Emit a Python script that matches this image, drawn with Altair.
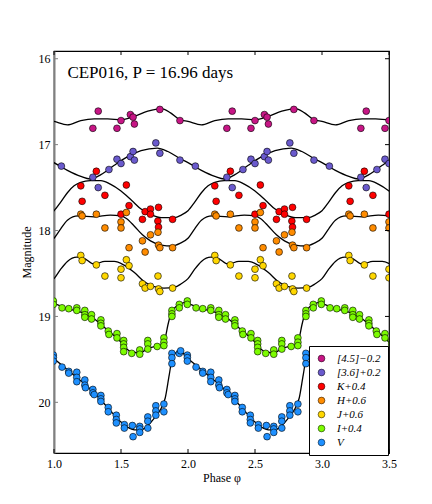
import altair as alt
import pandas as pd

# ---- band names & colours ----
bands = ["[4.5]\u22120.2", "[3.6]+0.2", "K+0.4", "H+0.6", "J+0.6", "I+0.4", "V"]
colors = ["#C71585", "#6A5ACD", "#FF0000", "#FF8C00", "#FFD700", "#7CFC00", "#1E90FF"]

# ---- observed points (phase in [0,1), plotted magnitude) ----
m45_phase = [0.29, 0.33, 0.47, 0.50, 0.57, 0.59, 0.60, 0.79, 0.94]
m45_mag = [16.81, 16.61, 16.81, 16.72, 16.65, 16.68, 16.76, 16.59, 16.72]

m36_phase = [0.055, 0.29, 0.33, 0.41, 0.47, 0.50, 0.57, 0.59, 0.60, 0.76, 0.79, 0.94]
m36_mag = [17.25, 17.38, 17.50, 17.29, 17.17, 17.22, 17.14, 17.08, 17.18, 16.98, 17.10, 17.18]

K_phase = [0.20, 0.21, 0.316, 0.38, 0.50, 0.54, 0.56, 0.66, 0.68, 0.72, 0.72, 0.78, 0.775, 0.78, 0.885]
K_mag = [17.48, 17.66, 17.31, 17.59, 17.81, 17.47, 17.71, 17.87, 17.78, 17.75, 17.81, 17.73, 17.89, 17.96, 17.87]

H_phase = [0.20, 0.21, 0.316, 0.38, 0.50, 0.50, 0.54, 0.56, 0.66, 0.68, 0.72, 0.776, 0.78, 0.79, 0.885]
H_mag = [17.81, 17.83, 17.81, 17.97, 17.90, 17.97, 17.79, 18.20, 18.12, 18.25, 18.05, 18.02, 18.17, 18.20, 18.20]

J_phase = [0.20, 0.21, 0.316, 0.38, 0.50, 0.50, 0.54, 0.56, 0.66, 0.68, 0.72, 0.776, 0.78, 0.79, 0.885]
J_mag = [18.29, 18.35, 18.40, 18.53, 18.45, 18.55, 18.34, 18.41, 18.62, 18.67, 18.65, 18.53, 18.68, 18.71, 18.67]

I_phase = [0.06, 0.11, 0.17, 0.17, 0.23, 0.23, 0.23, 0.28, 0.28, 0.35, 0.35, 0.35,
           0.405, 0.41, 0.47, 0.47, 0.52, 0.52, 0.52, 0.52, 0.58, 0.64, 0.64,
           0.70, 0.70, 0.70, 0.77, 0.82, 0.82, 0.82, 0.88, 0.88, 0.88, 0.935, 0.935,
           0.995, 0.995]
I_mag = [18.90, 18.91, 18.90, 18.93, 18.93, 18.98, 19.01, 18.98, 19.03, 19.04, 19.08, 19.11,
         19.17, 19.21, 19.20, 19.25, 19.28, 19.32, 19.36, 19.41, 19.43, 19.39, 19.44,
         19.28, 19.32, 19.38, 19.35, 19.25, 19.30, 19.34, 18.93, 18.97, 19.00, 18.86, 18.90,
         18.82, 18.86]

V_phase = [0.06, 0.11, 0.11, 0.17, 0.17, 0.17, 0.23, 0.23, 0.235, 0.29, 0.29, 0.30,
           0.35, 0.35, 0.35, 0.405, 0.405, 0.465, 0.465, 0.465, 0.525, 0.525,
           0.585, 0.59, 0.64, 0.64, 0.64, 0.70, 0.70, 0.70, 0.76, 0.76, 0.76,
           0.82, 0.82, 0.88, 0.88, 0.88, 0.935, 0.945, 0.995, 0.995, 0.995]
V_mag = [19.59, 19.64, 19.66, 19.65, 19.71, 19.76, 19.74, 19.80, 19.83, 19.85, 19.89, 19.91,
         19.92, 19.96, 19.99, 20.06, 20.11, 20.15, 20.20, 20.24, 20.26, 20.30,
         20.27, 20.40, 20.28, 20.31, 20.35, 20.17, 20.22, 20.30, 20.04, 20.10, 20.15,
         20.02, 20.11, 19.43, 19.48, 19.55, 19.43, 19.40, 19.45, 19.48, 19.52]

# ---- fitted template curves (knots over one period) ----
c45_phase = [0.0, 0.1, 0.2, 0.3, 0.4, 0.5, 0.6, 0.7, 0.8, 0.87, 0.94]
c45_mag = [16.73, 16.77, 16.72, 16.70, 16.70, 16.71, 16.67, 16.61, 16.58, 16.63, 16.71]

c36_phase = [0.0, 0.1, 0.2, 0.27, 0.35, 0.45, 0.55, 0.65, 0.77, 0.85, 0.95]
c36_mag = [17.21, 17.30, 17.37, 17.40, 17.35, 17.24, 17.14, 17.07, 17.04, 17.08, 17.17]

cK_phase = [0.0, 0.05, 0.1, 0.15, 0.2, 0.27, 0.35, 0.42, 0.5, 0.58, 0.65, 0.72, 0.8, 0.9, 0.95]
cK_mag = [17.77, 17.67, 17.56, 17.48, 17.44, 17.42, 17.42, 17.46, 17.54, 17.65, 17.75, 17.81, 17.85, 17.85, 17.82]

cH_phase = [0.0, 0.05, 0.1, 0.18, 0.3, 0.42, 0.5, 0.54, 0.6, 0.66, 0.72, 0.8, 0.88, 0.94]
cH_mag = [18.09, 17.98, 17.88, 17.83, 17.84, 17.82, 17.83, 17.86, 17.95, 18.05, 18.12, 18.17, 18.18, 18.15]

cJ_phase = [0.0, 0.05, 0.1, 0.17, 0.22, 0.3, 0.38, 0.45, 0.52, 0.6, 0.67, 0.74, 0.82, 0.9, 0.95]
cJ_mag = [18.56, 18.45, 18.36, 18.31, 18.32, 18.39, 18.36, 18.36, 18.40, 18.49, 18.59, 18.65, 18.67, 18.66, 18.62]

cI_phase = [0.0, 0.1, 0.2, 0.3, 0.4, 0.5, 0.56, 0.6, 0.65, 0.7, 0.76, 0.8, 0.83, 0.85, 0.87, 0.9, 0.93, 0.97]
cI_mag = [18.85, 18.91, 18.95, 19.03, 19.16, 19.30, 19.40, 19.42, 19.42, 19.37, 19.35, 19.33, 19.25, 19.10, 18.98, 18.90, 18.87, 18.84]

cV_phase = [0.0, 0.1, 0.2, 0.3, 0.4, 0.5, 0.55, 0.6, 0.65, 0.7, 0.75, 0.8, 0.83, 0.86, 0.885, 0.92, 0.95]
cV_mag = [19.49, 19.62, 19.75, 19.89, 20.06, 20.23, 20.29, 20.32, 20.32, 20.27, 20.18, 20.07, 19.95, 19.68, 19.47, 19.42, 19.42]

x_ticks = [1.0, 1.5, 2.0, 2.5, 3.0, 3.5]
y_ticks = [16, 17, 18, 19, 20]
title_text = "CEP016, P = 16.96 days"

obs = [(m45_phase, m45_mag), (m36_phase, m36_mag), (K_phase, K_mag), (H_phase, H_mag),
       (J_phase, J_mag), (I_phase, I_mag), (V_phase, V_mag)]
fits = [(c45_phase, c45_mag), (c36_phase, c36_mag), (cK_phase, cK_mag), (cH_phase, cH_mag),
        (cJ_phase, cJ_mag), (cI_phase, cI_mag), (cV_phase, cV_mag)]

# phase-fold: repeat each period over the shown range
pt_rows, ln_rows = [], []
for b, (ph, mg) in zip(bands, obs):
    for cyc in range(0, 4):
        for p, m in zip(ph, mg):
            x = p + cyc
            if 0.97 <= x <= 3.53:
                pt_rows.append({"band": b, "phase": x, "mag": m})
for b, (ph, mg) in zip(bands, fits):
    for cyc in range(0, 5):
        for p, m in zip(ph, mg):
            x = p + cyc
            if 0.8 <= x <= 3.7:
                ln_rows.append({"band": b, "phase": x, "mag": m})
pts = pd.DataFrame(pt_rows)
lns = pd.DataFrame(ln_rows)

W, H = 335, 402
FONT = "Liberation Serif"
xscale = alt.Scale(domain=[1.0, 3.5], nice=False, zero=False)
yscale = alt.Scale(domain=[15.91, 20.59], reverse=True, nice=False, zero=False)
xaxis = alt.Axis(title="Phase \u03c6", values=x_ticks, format=".1f", ticks=False,
                 labelPadding=5, titlePadding=3, grid=False, domain=False,
                 labelFlush=False)
yaxis = alt.Axis(title="Magnitude", values=y_ticks, format="d", ticks=False,
                 labelPadding=4, titlePadding=5, grid=False, domain=True,
                 domainColor="#808080", domainWidth=2, labelFlush=False)

lines = alt.Chart(lns).mark_line(color="black", strokeWidth=1.3, interpolate="monotone", clip=True).encode(
    x=alt.X("phase:Q", scale=xscale, axis=xaxis),
    y=alt.Y("mag:Q", scale=yscale, axis=yaxis),
    detail="band:N",
)

points = alt.Chart(pts).mark_circle(size=46, opacity=1, stroke="black", strokeWidth=0.6, clip=True).encode(
    x=alt.X("phase:Q", scale=xscale, axis=xaxis),
    y=alt.Y("mag:Q", scale=yscale, axis=yaxis),
    color=alt.Color("band:N", scale=alt.Scale(domain=bands, range=colors),
                    legend=alt.Legend(title=None, orient="none", legendX=255, legendY=295,
                                      fillColor="white", strokeColor="black", padding=7,
                                      symbolType="circle", symbolSize=46,
                                      symbolStrokeColor="black", symbolStrokeWidth=0.5,
                                      labelFont=FONT, labelFontSize=11, labelFontStyle="italic",
                                      rowPadding=2, labelOffset=10)),
)

title = alt.Chart(pd.DataFrame({"t": [title_text]})).mark_text(
    align="left", baseline="alphabetic", font=FONT, fontSize=17, color="black"
).encode(x=alt.datum(1.1), y=alt.datum(16.22), text="t:N")

xt = pd.DataFrame({"phase": x_ticks})
yt = pd.DataFrame({"mag": y_ticks})
tick_top = alt.Chart(xt).mark_rule(color="black").encode(
    x=alt.X("phase:Q", scale=xscale, axis=xaxis), y=alt.value(0), y2=alt.value(4))
tick_bot = alt.Chart(xt).mark_rule(color="black").encode(
    x=alt.X("phase:Q", scale=xscale, axis=xaxis), y=alt.value(H - 4), y2=alt.value(H))
tick_left = alt.Chart(yt).mark_rule(color="#808080").encode(
    y=alt.Y("mag:Q", scale=yscale, axis=yaxis), x=alt.value(0), x2=alt.value(4))
tick_right = alt.Chart(yt).mark_rule(color="black").encode(
    y=alt.Y("mag:Q", scale=yscale, axis=yaxis), x=alt.value(W - 4), x2=alt.value(W))

chart = alt.layer(lines, points, title, tick_top, tick_bot, tick_left, tick_right).properties(
    width=W, height=H,
    autosize=alt.AutoSizeParams(type="none"),
    padding={"left": 46, "top": 43, "right": 30, "bottom": 40},
).configure_view(stroke="black", strokeWidth=1.2).configure_axis(
    labelFont=FONT, labelFontSize=12, labelColor="black",
    titleFont=FONT, titleFontSize=12, titleFontWeight="normal", titleColor="black",
)

chart.save("out.html", embed_options={"renderer": "svg", "actions": False})
